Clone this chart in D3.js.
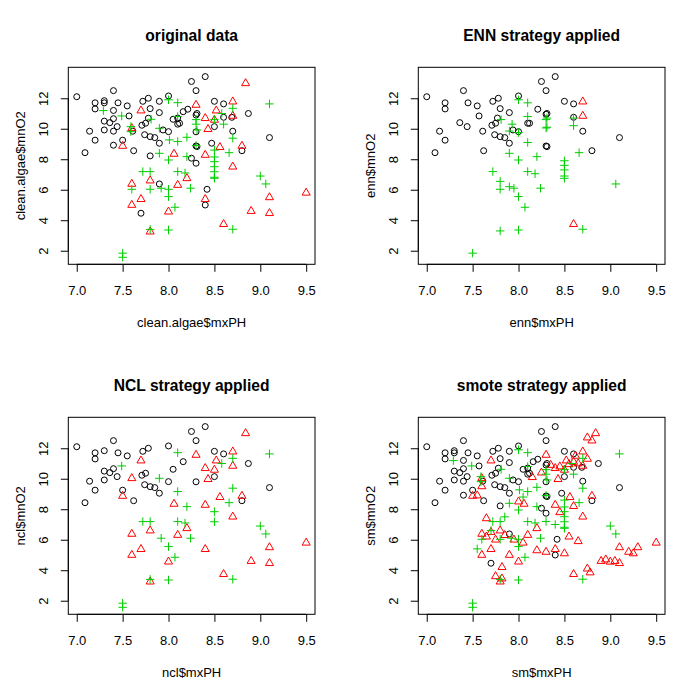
<!DOCTYPE html>
<html><head><meta charset="utf-8">
<script src="https://cdn.jsdelivr.net/npm/d3@7"></script>
<style>body{margin:0;background:#fff}</style>
</head><body>
<svg id="c" width="700" height="700"></svg>
<script>
// ---------- DATA ----------
const xTicks = [7.0, 7.5, 8.0, 8.5, 9.0, 9.5];
const yTicks = [2, 4, 6, 8, 10, 12];
const titles = ["original data", "ENN strategy applied", "NCL strategy applied", "smote strategy applied"];
const xLabels = ["clean.algae$mxPH", "enn$mxPH", "ncl$mxPH", "sm$mxPH"];
const yLabels = ["clean.algae$mnO2", "enn$mnO2", "ncl$mnO2", "sm$mnO2"];

// original data, class 1 (black circles)
const origC1 = [[7.0,12.1],[7.4,12.5],[7.2,11.7],[7.3,11.84],[7.3,11.7],[7.2,11.3],[7.45,11.7],[7.55,11.5],[7.4,11.2],[7.72,11.8],[7.78,12.0],[7.9,11.8],[8.0,12.15],[8.25,13.1],[7.57,10.84],[7.3,10.5],[7.36,10.4],[7.4,10.66],[7.14,9.84],[7.3,9.92],[7.4,9.84],[7.44,10.14],[7.2,9.25],[7.5,9.25],[7.4,8.92],[7.09,8.43],[7.62,8.56],[7.8,8.22],[7.71,10.23],[7.75,10.36],[7.78,10.69],[7.61,9.84],[7.74,9.61],[7.8,9.48],[7.85,9.42],[7.9,9.05],[7.9,11.06],[8.0,9.81],[8.05,10.62],[8.1,10.3],[8.12,10.36],[8.16,11.12],[8.21,11.28],[8.31,11.0],[8.31,8.83],[8.1,10.7],[8.4,13.42],[8.3,12.5],[8.5,11.8],[8.6,11.63],[8.87,11.0],[8.3,10.9],[8.6,10.75],[8.69,10.75],[8.5,10.14],[8.7,9.84],[8.3,9.8],[9.1,9.42],[8.47,9.05],[8.3,8.87],[8.8,8.56],[8.25,8.07],[8.3,7.74],[7.9,6.38],[8.42,6.03],[8.4,5.0],[7.7,4.46],[7.8,11.32],[7.94,9.92]];
// original data, class 2 (red triangles)
const origC2 = [[8.84,12.98],[8.3,11.56],[8.7,11.78],[8.52,11.19],[8.4,10.69],[8.5,10.58],[8.7,10.84],[8.43,9.97],[8.56,8.79],[8.8,8.87],[8.4,8.28],[8.7,7.51],[7.7,11.19],[7.6,10.03],[7.5,8.87],[8.06,8.35],[7.6,6.38],[7.8,6.6],[8.1,6.31],[8.2,6.75],[7.7,5.38],[7.6,5.0],[8.0,4.56],[7.8,3.25],[8.4,5.38],[9.1,5.5],[9.5,5.8],[8.9,4.6],[9.1,4.46],[8.6,3.74]];
// original data, class 3 (green plus)
const origC3 = [[9.1,11.63],[8.3,10.6],[8.3,10.3],[8.58,11.0],[8.6,10.3],[8.7,11.34],[8.5,10.6],[8.7,9.38],[8.3,8.9],[8.66,8.43],[8.5,8.6],[8.5,8.15],[8.5,7.84],[8.5,7.51],[8.5,7.18],[8.5,6.82],[9.0,6.9],[9.06,6.38],[8.7,3.41],[7.29,11.19],[7.49,10.84],[7.59,10.14],[7.59,9.81],[7.81,10.62],[7.9,10.03],[8.0,11.9],[8.1,11.71],[8.1,10.8],[8.01,9.27],[8.1,9.16],[8.2,9.44],[7.9,8.39],[8.0,7.95],[8.2,8.17],[7.72,7.19],[7.8,7.19],[8.1,7.19],[8.18,7.1],[7.6,6.03],[7.8,6.03],[7.92,6.1],[8.0,6.03],[8.24,6.1],[8.0,5.55],[8.07,4.85],[7.8,3.4],[8.0,3.36],[7.5,1.84],[7.5,1.57],[8.31,9.92],[8.5,6.75]];

// ENN
const ennC1 = [[7.0,12.1],[7.4,12.5],[7.2,11.7],[7.2,11.3],[7.45,11.7],[7.55,11.5],[7.72,11.8],[7.78,12.0],[8.0,12.15],[8.25,13.1],[8.3,12.5],[7.8,11.32],[7.9,11.06],[7.57,10.84],[7.36,10.4],[7.44,10.14],[7.14,9.84],[7.2,9.25],[7.09,8.43],[7.62,8.56],[7.61,9.84],[7.71,10.23],[7.75,10.36],[7.77,10.7],[7.74,9.61],[7.8,9.48],[7.85,9.42],[7.9,9.05],[7.94,9.92],[8.0,9.81],[8.1,10.36],[8.12,10.36],[8.21,11.28],[8.31,11.0],[8.31,8.83],[8.4,13.42],[8.5,11.8],[8.6,11.63],[8.3,10.95],[8.6,10.75],[8.7,9.84],[9.1,9.42],[8.3,8.87],[8.8,8.56]];
const ennC2 = [[8.7,11.78],[8.7,10.84],[8.6,3.74]];
const ennC3 = [[8.0,11.9],[8.1,11.7],[8.1,10.8],[7.81,10.6],[7.93,10.3],[7.9,9.85],[8.0,9.75],[8.1,9.1],[7.9,8.39],[8.0,7.95],[8.2,8.17],[8.31,10.7],[8.31,10.1],[7.72,7.19],[8.1,7.19],[8.18,7.05],[8.3,10.6],[8.3,10.05],[8.6,10.7],[8.6,10.2],[8.66,8.43],[8.5,7.9],[8.5,7.6],[8.5,7.3],[8.5,6.9],[7.8,6.55],[7.8,6.03],[7.9,6.2],[7.95,6.1],[8.0,5.55],[8.07,4.85],[8.24,6.1],[7.8,3.3],[8.0,3.36],[7.5,1.84],[8.5,6.75],[9.06,6.38],[8.7,3.41]];

// NCL
const nclC1 = [[7.0,12.1],[7.4,12.5],[7.2,11.7],[7.3,11.84],[7.2,11.3],[7.45,11.7],[7.55,11.5],[7.72,11.8],[7.78,12.0],[8.0,12.15],[8.25,13.1],[8.4,13.42],[8.3,12.5],[7.3,10.5],[7.36,10.4],[7.4,10.66],[7.14,9.84],[7.3,9.92],[7.44,10.14],[7.2,9.25],[7.09,8.43],[7.5,9.25],[7.62,8.56],[7.71,10.23],[7.75,10.36],[7.74,9.61],[7.8,9.48],[7.85,9.42],[7.9,9.05],[8.0,9.81],[8.05,10.62],[8.16,11.12],[8.5,11.8],[8.6,11.63],[8.87,11.0],[8.5,10.14],[9.1,9.42],[8.8,8.56],[8.3,9.8]];
const nclC2 = origC2;
const nclC3 = [[9.1,11.63],[8.58,11.0],[8.7,11.34],[8.7,9.38],[8.66,8.43],[8.5,7.84],[8.5,7.18],[9.0,6.9],[9.06,6.38],[8.7,3.41],[7.49,10.84],[7.9,10.03],[8.1,11.71],[8.1,9.16],[8.2,8.17],[7.72,7.19],[7.8,7.19],[8.1,7.19],[8.18,7.1],[7.92,6.1],[8.24,6.1],[8.0,5.55],[8.07,4.85],[7.8,3.4],[8.0,3.36],[7.5,1.84],[7.5,1.57]];

// SMOTE: synthetic additions
const smExtraC2 = [[8.35,10.9],[8.45,10.8],[8.55,10.95],[8.6,11.1],[8.65,11.0],[8.75,11.3],[8.8,12.5],[8.75,12.7],[8.62,11.5],[8.25,10.4],[8.15,10.1],[7.65,6.2],[7.7,6.5],[7.75,6.0],[7.85,6.3],[7.95,6.0],[8.05,5.8],[7.75,3.6],[7.82,3.45],[7.82,4.2],[7.9,5.0],[8.2,5.3],[8.3,5.2],[8.5,5.1],[8.75,4.1],[8.78,3.85],[8.95,4.7],[9.05,4.6],[9.0,4.55],[9.2,5.2],[9.3,5.5],[9.25,5.1],[8.45,7.8],[8.6,8.2],[8.0,8.5],[7.6,9.5],[7.55,8.9],[7.65,7.4],[8.55,6.2],[8.65,5.9]];
const smExtraC3 = [[7.55,5.4],[7.7,6.6],[7.85,7.5],[8.3,7.2],[8.4,7.0],[8.05,8.8]];

// ---------- DRAW ----------
const svg = d3.select("#c");
svg.append("rect").attr("width",700).attr("height",700).attr("fill","#fff");
const FONT = "'Liberation Sans', Arial, Helvetica, sans-serif";
const GREEN = "#00CD00";
const XC = 3.0;

const panels = [
  {c1: origC1, c2: origC2, c3: origC3},
  {c1: ennC1, c2: ennC2, c3: ennC3},
  {c1: nclC1, c2: nclC2, c3: nclC3},
  {c1: origC1, c2: origC2.concat(smExtraC2), c3: origC3.concat(smExtraC3)}
];

panels.forEach((p, i) => {
  const ox = (i % 2) * 350, oy = Math.floor(i / 2) * 350;
  const g = svg.append("g").attr("transform", `translate(${ox},${oy})`);
  const L = 68.3, R = 315, T = 67.3, B = 264.3;
  const x = d3.scaleLinear().domain([6.908, 9.596]).range([L, R]);
  const y = d3.scaleLinear().domain([1.11, 14.03]).range([B, T]);

  // x axis
  const xa = g.append("g").attr("transform", `translate(0,${B})`)
    .call(d3.axisBottom(x).tickValues(xTicks).tickFormat(d3.format(".1f")).tickSize(7.5).tickSizeOuter(0).tickPadding(14));
  xa.select(".domain").attr("d", `M${x(xTicks[0])},0H${x(xTicks[xTicks.length-1])}`).attr("stroke","#000");
  xa.selectAll("text").attr("font-family", FONT).attr("font-size", 13).attr("fill","#000");
  xa.selectAll("line").attr("stroke","#000");

  // y axis
  const ya = g.append("g").attr("transform", `translate(${L},0)`)
    .call(d3.axisLeft(y).tickValues(yTicks).tickSize(7.5).tickSizeOuter(0));
  ya.select(".domain").attr("d", `M0,${y(yTicks[0])}V${y(yTicks[yTicks.length-1])}`).attr("stroke","#000");
  ya.selectAll("line").attr("stroke","#000");
  ya.selectAll("text").attr("x", null).attr("dy", null)
    .attr("text-anchor","middle").attr("transform","translate(-20.6,0) rotate(-90)")
    .attr("font-family", FONT).attr("font-size", 13).attr("fill","#000");

  // box
  g.append("rect").attr("x", L).attr("y", T).attr("width", R - L).attr("height", B - T)
    .attr("fill","none").attr("stroke","#000").attr("stroke-width",1);

  // points: circles
  g.append("g").selectAll("circle").data(p.c1).join("circle")
    .attr("cx", d => x(d[0])).attr("cy", d => y(d[1])).attr("r", XC)
    .attr("fill","none").attr("stroke","#000").attr("stroke-width",1);
  // triangles
  const tr = d => {
    const cx = x(d[0]), cy = y(d[1]);
    const r = 1.5551 * XC, h = 1.3468 * XC, b = 0.7775 * XC;
    return `M${cx},${cy - r}L${cx + h},${cy + b}L${cx - h},${cy + b}Z`;
  };
  g.append("g").selectAll("path").data(p.c2).join("path")
    .attr("d", tr).attr("fill","none").attr("stroke","#FF0000").attr("stroke-width",1);
  // plus
  const pl = d => {
    const cx = x(d[0]), cy = y(d[1]), s = Math.SQRT2 * XC;
    return `M${cx - s},${cy}H${cx + s}M${cx},${cy - s}V${cy + s}`;
  };
  g.append("g").selectAll("path").data(p.c3).join("path")
    .attr("d", pl).attr("fill","none").attr("stroke", GREEN).attr("stroke-width",1);

  // labels
  g.append("text").attr("x", (L + R) / 2).attr("y", 40.6).attr("text-anchor","middle")
    .attr("font-family", FONT).attr("font-size", 15.6).attr("font-weight","bold").text(titles[i]);
  g.append("text").attr("x", (L + R) / 2).attr("y", 326.5).attr("text-anchor","middle")
    .attr("font-family", FONT).attr("font-size", 13).text(xLabels[i]);
  g.append("text").attr("transform", `translate(24.7,${(T + B) / 2}) rotate(-90)`).attr("text-anchor","middle")
    .attr("font-family", FONT).attr("font-size", 13).text(yLabels[i]);
});
</script>
</body></html>
